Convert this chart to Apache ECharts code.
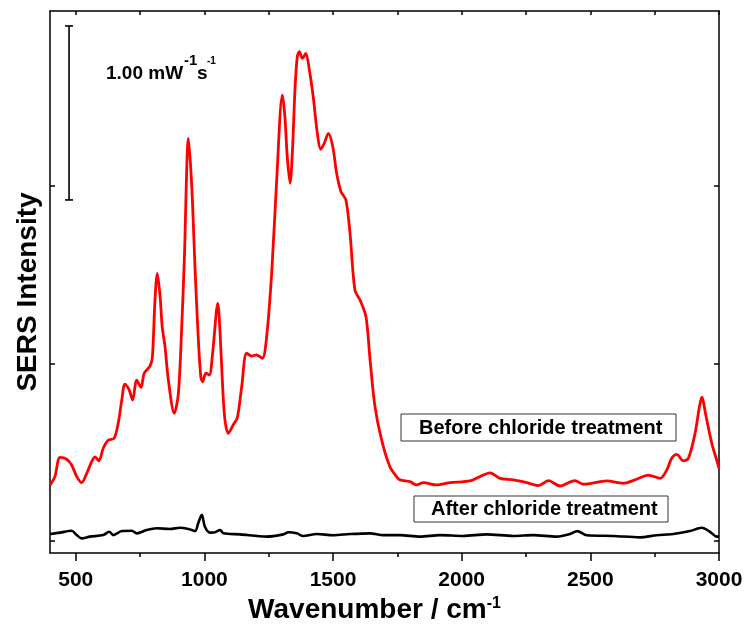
<!DOCTYPE html>
<html><head><meta charset="utf-8">
<script src="https://cdn.jsdelivr.net/npm/echarts@6/dist/echarts.min.js"></script>
<style>html,body{margin:0;padding:0;background:#fff}#c{width:749px;height:634px}</style>
</head><body><div id="c"></div>
<script>
// Wavenumber (cm-1) and SERS intensity (mW^-1 s^-1, arbitrary offset)
const beforeWavenumber = [400,419,439,465,484,504,523,543,562,575,
  590,607,627,649,665,679,691,707,721,737,
  754,766,789,798,808,817,828,836,847,860,
  883,899,912,922,938,951,964,976,986,993,
  1006,1019,1032,1052,1061,1071,1080,1093,1112,1128,
  1145,1164,1184,1203,1225,1242,1262,1281,1303,1313,
  1322,1333,1343,1352,1361,1369,1381,1394,1408,1423,
  1439,1452,1466,1482,1499,1514,1531,1550,1566,1585,
  1605,1628,1644,1663,1689,1721,1747,1760,1799,1825,
  1851,1903,1955,2032,2071,2110,2149,2201,2253,2298,
  2337,2382,2440,2473,2564,2628,2680,2725,2771,2797,
  2816,2836,2861,2881,2907,2924,2933,2950,2972,2991,
  3000];
const beforeIntensity = [0.39,0.439,0.550,0.539,0.506,0.439,0.404,0.458,0.525,0.553,
  0.530,0.602,0.649,0.659,0.745,0.879,0.971,0.941,0.879,0.994,
  0.952,1.033,1.075,1.128,1.454,1.607,1.473,1.301,1.186,0.994,
  0.803,0.918,1.301,1.684,2.383,2.105,1.626,1.243,1.013,0.984,
  1.033,1.023,1.148,1.435,1.263,0.956,0.764,0.688,0.736,0.778,
  0.956,1.148,1.132,1.138,1.119,1.243,1.62,2.144,2.632,2.507,
  2.278,2.125,2.335,2.661,2.852,2.881,2.843,2.872,2.776,2.622,
  2.412,2.320,2.355,2.412,2.335,2.182,2.076,2.029,1.837,1.511,
  1.454,1.358,1.109,0.841,0.649,0.496,0.439,0.420,0.410,0.391,
  0.404,0.391,0.404,0.414,0.439,0.461,0.429,0.420,0.404,0.387,
  0.416,0.385,0.416,0.395,0.414,0.401,0.424,0.448,0.429,0.477,
  0.544,0.567,0.530,0.544,0.688,0.841,0.895,0.783,0.630,0.534,
  0.487];
const afterWavenumber = [400,439,484,504,523,555,607,630,646,679,
  718,737,776,815,866,905,938,964,976,990,
  1002,1022,1041,1061,1074,1138,1242,1307,1326,1359,
  1384,1437,1501,1566,1644,1695,1760,1838,1916,2006,
  2097,2201,2278,2369,2421,2449,2486,2589,2693,2758,
  2822,2887,2933,2965,2991,3000];
const afterIntensity = [0.109,0.117,0.128,0.103,0.084,0.094,0.103,0.122,0.103,0.126,
  0.128,0.113,0.132,0.142,0.138,0.145,0.138,0.126,0.171,0.22,
  0.151,0.117,0.119,0.132,0.113,0.107,0.094,0.107,0.119,0.113,
  0.098,0.109,0.102,0.109,0.113,0.103,0.103,0.094,0.103,0.098,
  0.107,0.098,0.103,0.094,0.109,0.126,0.102,0.098,0.090,0.102,
  0.109,0.126,0.145,0.122,0.094,0.094];
const xMajorTicks = [500,1000,1500,2000,2500,3000];
const xMinorTicks = [750,1250,1750,2250,2750];
const yTicks = [0.07,1.09,2.11];
const scaleBarWavenumber = [474,474];
const scaleBarIntensity = [2.029,3.029];
const seriesNames = ['Before chloride treatment','After chloride treatment'];

const FONT = '"Liberation Sans", Arial, Helvetica, sans-serif';
const zip = (a,b) => a.map((v,i)=>[v,b[i]]);

const chart = echarts.init(document.getElementById('c'), null, {renderer:'canvas'});
const axisLine = {show:true, lineStyle:{color:'#000', width:1.5}};
chart.setOption({
  animation:false,
  backgroundColor:'#fff',
  grid:{left:50, right:30, top:11, bottom:81, containLabel:false},
  xAxis:[
    {type:'value', min:400, max:3000, position:'bottom',
     axisLine:axisLine,
     axisTick:{show:true, inside:false, length:8, customValues:xMajorTicks, lineStyle:{color:'#000',width:1.5}},
     axisLabel:{show:true, customValues:xMajorTicks, margin:17, color:'#000', fontFamily:FONT, fontWeight:'bold', fontSize:21,
       formatter:(v)=>String(v)},
     splitLine:{show:false},
     name:'Wavenumber / cm{sup|-1}', nameLocation:'middle', nameGap:42,
     nameTextStyle:{color:'#000', fontFamily:FONT, fontWeight:'bold', fontSize:28, padding:[0,20,0,0],
       rich:{sup:{fontFamily:FONT, fontWeight:'bold', fontSize:16, verticalAlign:'top', color:'#000'}}}},
    {type:'value', min:400, max:3000, position:'bottom',
     axisLine:{show:false},
     axisTick:{show:true, inside:false, length:4, customValues:xMinorTicks, lineStyle:{color:'#000',width:1.5}},
     axisLabel:{show:false}, splitLine:{show:false}},
    {type:'value', min:400, max:3000, position:'top',
     axisLine:axisLine,
     axisTick:{show:true, inside:true, length:4, customValues:xMajorTicks.concat(xMinorTicks), lineStyle:{color:'#000',width:1.5}},
     axisLabel:{show:false}, splitLine:{show:false}}
  ],
  yAxis:[
    {type:'value', min:0, max:3.115, position:'left',
     axisLine:axisLine,
     axisTick:{show:true, inside:true, length:5, customValues:yTicks, lineStyle:{color:'#000',width:1.5}},
     axisLabel:{show:false}, splitLine:{show:false},
     name:'SERS Intensity', nameLocation:'middle', nameGap:8, nameRotate:90,
     nameTextStyle:{color:'#000', fontFamily:FONT, fontWeight:'bold', fontSize:28, padding:[0,20,0,0]}},
    {type:'value', min:0, max:3.115, position:'right',
     axisLine:axisLine,
     axisTick:{show:true, inside:true, length:5, customValues:yTicks, lineStyle:{color:'#000',width:1.5}},
     axisLabel:{show:false}, splitLine:{show:false}}
  ],
  series:[
    {name:seriesNames[0], type:'line', xAxisIndex:0, yAxisIndex:0, data:zip(beforeWavenumber,beforeIntensity),
     showSymbol:false, smooth:0.3, lineStyle:{color:'#ff0000', width:2.8}, itemStyle:{color:'#ff0000'}, silent:true, z:3},
    {name:seriesNames[1], type:'line', xAxisIndex:0, yAxisIndex:0, data:zip(afterWavenumber,afterIntensity),
     showSymbol:false, smooth:0.3, lineStyle:{color:'#000', width:2.6}, itemStyle:{color:'#000'}, silent:true, z:2},
    {name:'scale', type:'line', xAxisIndex:0, yAxisIndex:0, data:zip(scaleBarWavenumber,scaleBarIntensity),
     showSymbol:true, symbol:'rect', symbolSize:[8,1.6], lineStyle:{color:'#000', width:1.6}, itemStyle:{color:'#000'}, silent:true}
  ],
  graphic:[
    {type:'group', children:[
      {type:'rect', shape:{x:401, y:414, width:275, height:27}, style:{fill:'#fff', stroke:'#333', lineWidth:1}},
      {type:'text', x:419, y:428, style:{text:seriesNames[0], font:'bold 20px '+FONT, fill:'#000', verticalAlign:'middle', align:'left'}}
    ]},
    {type:'group', children:[
      {type:'rect', shape:{x:414, y:496, width:254, height:26}, style:{fill:'#fff', stroke:'#333', lineWidth:1}},
      {type:'text', x:431, y:509.5, style:{text:seriesNames[1], font:'bold 20px '+FONT, fill:'#000', verticalAlign:'middle', align:'left'}}
    ]},
    {type:'group', children:[
      {type:'text', x:106, y:64, style:{text:'1.00 mW', font:'bold 19px '+FONT, fill:'#000', verticalAlign:'alphabetic', align:'left'}},
      {type:'text', x:184, y:53, style:{text:'-1', font:'bold 15px '+FONT, fill:'#000', verticalAlign:'alphabetic', align:'left'}},
      {type:'text', x:197, y:64, style:{text:'s', font:'bold 19px '+FONT, fill:'#000', verticalAlign:'alphabetic', align:'left'}},
      {type:'text', x:207, y:56, style:{text:'-1', font:'bold 10px '+FONT, fill:'#000', verticalAlign:'alphabetic', align:'left'}}
    ]}
  ]
});
</script></body></html>
